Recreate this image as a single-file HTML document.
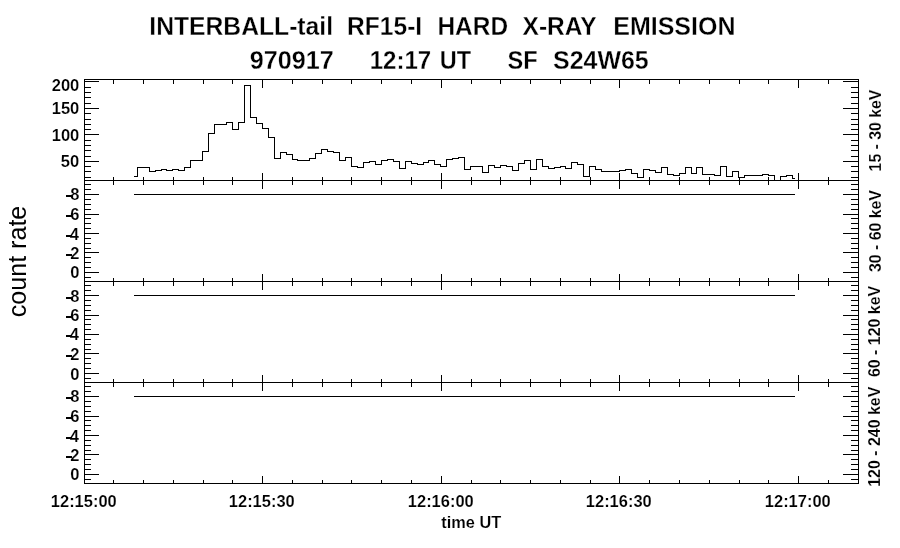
<!DOCTYPE html>
<html><head><meta charset="utf-8"><title>INTERBALL-tail RF15-I HARD X-RAY EMISSION</title>
<style>
html,body{margin:0;padding:0;background:#fff;}
body{width:900px;height:548px;overflow:hidden;font-family:"Liberation Sans",sans-serif;}
svg{display:block;filter:grayscale(1);}
svg text{font-family:"Liberation Sans",sans-serif;fill:#000;}
</style></head>
<body>
<svg width="900" height="548" viewBox="0 0 900 548">
<rect x="0" y="0" width="900" height="548" fill="#fff"/>
<g fill="#000" shape-rendering="crispEdges"><rect x="84" y="79" width="1" height="405"/><rect x="858" y="79" width="1" height="405"/><rect x="84" y="79" width="775" height="1"/><rect x="84" y="180" width="775" height="1"/><rect x="84" y="281" width="775" height="1"/><rect x="84" y="382" width="775" height="1"/><rect x="84" y="483" width="775" height="1"/><rect x="113" y="79" width="1" height="5"/><rect x="143" y="79" width="1" height="5"/><rect x="173" y="79" width="1" height="5"/><rect x="203" y="79" width="1" height="5"/><rect x="232" y="79" width="1" height="5"/><rect x="262" y="79" width="1" height="9"/><rect x="292" y="79" width="1" height="5"/><rect x="322" y="79" width="1" height="5"/><rect x="351" y="79" width="1" height="5"/><rect x="381" y="79" width="1" height="5"/><rect x="411" y="79" width="1" height="5"/><rect x="441" y="79" width="1" height="9"/><rect x="471" y="79" width="1" height="5"/><rect x="500" y="79" width="1" height="5"/><rect x="530" y="79" width="1" height="5"/><rect x="560" y="79" width="1" height="5"/><rect x="590" y="79" width="1" height="5"/><rect x="619" y="79" width="1" height="9"/><rect x="649" y="79" width="1" height="5"/><rect x="679" y="79" width="1" height="5"/><rect x="709" y="79" width="1" height="5"/><rect x="739" y="79" width="1" height="5"/><rect x="768" y="79" width="1" height="5"/><rect x="798" y="79" width="1" height="9"/><rect x="828" y="79" width="1" height="5"/><rect x="113" y="177" width="1" height="8"/><rect x="143" y="177" width="1" height="8"/><rect x="173" y="177" width="1" height="8"/><rect x="203" y="177" width="1" height="8"/><rect x="232" y="177" width="1" height="8"/><rect x="262" y="173" width="1" height="16"/><rect x="292" y="177" width="1" height="8"/><rect x="322" y="177" width="1" height="8"/><rect x="351" y="177" width="1" height="8"/><rect x="381" y="177" width="1" height="8"/><rect x="411" y="177" width="1" height="8"/><rect x="441" y="173" width="1" height="16"/><rect x="471" y="177" width="1" height="8"/><rect x="500" y="177" width="1" height="8"/><rect x="530" y="177" width="1" height="8"/><rect x="560" y="177" width="1" height="8"/><rect x="590" y="177" width="1" height="8"/><rect x="619" y="173" width="1" height="16"/><rect x="649" y="177" width="1" height="8"/><rect x="679" y="177" width="1" height="8"/><rect x="709" y="177" width="1" height="8"/><rect x="739" y="177" width="1" height="8"/><rect x="768" y="177" width="1" height="8"/><rect x="798" y="173" width="1" height="16"/><rect x="828" y="177" width="1" height="8"/><rect x="113" y="278" width="1" height="8"/><rect x="143" y="278" width="1" height="8"/><rect x="173" y="278" width="1" height="8"/><rect x="203" y="278" width="1" height="8"/><rect x="232" y="278" width="1" height="8"/><rect x="262" y="274" width="1" height="16"/><rect x="292" y="278" width="1" height="8"/><rect x="322" y="278" width="1" height="8"/><rect x="351" y="278" width="1" height="8"/><rect x="381" y="278" width="1" height="8"/><rect x="411" y="278" width="1" height="8"/><rect x="441" y="274" width="1" height="16"/><rect x="471" y="278" width="1" height="8"/><rect x="500" y="278" width="1" height="8"/><rect x="530" y="278" width="1" height="8"/><rect x="560" y="278" width="1" height="8"/><rect x="590" y="278" width="1" height="8"/><rect x="619" y="274" width="1" height="16"/><rect x="649" y="278" width="1" height="8"/><rect x="679" y="278" width="1" height="8"/><rect x="709" y="278" width="1" height="8"/><rect x="739" y="278" width="1" height="8"/><rect x="768" y="278" width="1" height="8"/><rect x="798" y="274" width="1" height="16"/><rect x="828" y="278" width="1" height="8"/><rect x="113" y="379" width="1" height="8"/><rect x="143" y="379" width="1" height="8"/><rect x="173" y="379" width="1" height="8"/><rect x="203" y="379" width="1" height="8"/><rect x="232" y="379" width="1" height="8"/><rect x="262" y="375" width="1" height="16"/><rect x="292" y="379" width="1" height="8"/><rect x="322" y="379" width="1" height="8"/><rect x="351" y="379" width="1" height="8"/><rect x="381" y="379" width="1" height="8"/><rect x="411" y="379" width="1" height="8"/><rect x="441" y="375" width="1" height="16"/><rect x="471" y="379" width="1" height="8"/><rect x="500" y="379" width="1" height="8"/><rect x="530" y="379" width="1" height="8"/><rect x="560" y="379" width="1" height="8"/><rect x="590" y="379" width="1" height="8"/><rect x="619" y="375" width="1" height="16"/><rect x="649" y="379" width="1" height="8"/><rect x="679" y="379" width="1" height="8"/><rect x="709" y="379" width="1" height="8"/><rect x="739" y="379" width="1" height="8"/><rect x="768" y="379" width="1" height="8"/><rect x="798" y="375" width="1" height="16"/><rect x="828" y="379" width="1" height="8"/><rect x="113" y="480" width="1" height="4"/><rect x="143" y="480" width="1" height="4"/><rect x="173" y="480" width="1" height="4"/><rect x="203" y="480" width="1" height="4"/><rect x="232" y="480" width="1" height="4"/><rect x="262" y="476" width="1" height="8"/><rect x="292" y="480" width="1" height="4"/><rect x="322" y="480" width="1" height="4"/><rect x="351" y="480" width="1" height="4"/><rect x="381" y="480" width="1" height="4"/><rect x="411" y="480" width="1" height="4"/><rect x="441" y="476" width="1" height="8"/><rect x="471" y="480" width="1" height="4"/><rect x="500" y="480" width="1" height="4"/><rect x="530" y="480" width="1" height="4"/><rect x="560" y="480" width="1" height="4"/><rect x="590" y="480" width="1" height="4"/><rect x="619" y="476" width="1" height="8"/><rect x="649" y="480" width="1" height="4"/><rect x="679" y="480" width="1" height="4"/><rect x="709" y="480" width="1" height="4"/><rect x="739" y="480" width="1" height="4"/><rect x="768" y="480" width="1" height="4"/><rect x="798" y="476" width="1" height="8"/><rect x="828" y="480" width="1" height="4"/><rect x="84" y="81" width="15" height="1"/><rect x="843" y="81" width="16" height="1"/><rect x="84" y="87" width="7" height="1"/><rect x="851" y="87" width="8" height="1"/><rect x="84" y="92" width="7" height="1"/><rect x="851" y="92" width="8" height="1"/><rect x="84" y="97" width="7" height="1"/><rect x="851" y="97" width="8" height="1"/><rect x="84" y="103" width="7" height="1"/><rect x="851" y="103" width="8" height="1"/><rect x="84" y="108" width="15" height="1"/><rect x="843" y="108" width="16" height="1"/><rect x="84" y="113" width="7" height="1"/><rect x="851" y="113" width="8" height="1"/><rect x="84" y="119" width="7" height="1"/><rect x="851" y="119" width="8" height="1"/><rect x="84" y="124" width="7" height="1"/><rect x="851" y="124" width="8" height="1"/><rect x="84" y="129" width="7" height="1"/><rect x="851" y="129" width="8" height="1"/><rect x="84" y="134" width="15" height="1"/><rect x="843" y="134" width="16" height="1"/><rect x="84" y="140" width="7" height="1"/><rect x="851" y="140" width="8" height="1"/><rect x="84" y="145" width="7" height="1"/><rect x="851" y="145" width="8" height="1"/><rect x="84" y="150" width="7" height="1"/><rect x="851" y="150" width="8" height="1"/><rect x="84" y="156" width="7" height="1"/><rect x="851" y="156" width="8" height="1"/><rect x="84" y="161" width="15" height="1"/><rect x="843" y="161" width="16" height="1"/><rect x="84" y="166" width="7" height="1"/><rect x="851" y="166" width="8" height="1"/><rect x="84" y="171" width="7" height="1"/><rect x="851" y="171" width="8" height="1"/><rect x="84" y="177" width="7" height="1"/><rect x="851" y="177" width="8" height="1"/><rect x="84" y="184" width="7" height="1"/><rect x="851" y="184" width="8" height="1"/><rect x="84" y="189" width="7" height="1"/><rect x="851" y="189" width="8" height="1"/><rect x="84" y="194" width="15" height="1"/><rect x="843" y="194" width="16" height="1"/><rect x="84" y="199" width="7" height="1"/><rect x="851" y="199" width="8" height="1"/><rect x="84" y="204" width="7" height="1"/><rect x="851" y="204" width="8" height="1"/><rect x="84" y="209" width="7" height="1"/><rect x="851" y="209" width="8" height="1"/><rect x="84" y="214" width="15" height="1"/><rect x="843" y="214" width="16" height="1"/><rect x="84" y="218" width="7" height="1"/><rect x="851" y="218" width="8" height="1"/><rect x="84" y="223" width="7" height="1"/><rect x="851" y="223" width="8" height="1"/><rect x="84" y="228" width="7" height="1"/><rect x="851" y="228" width="8" height="1"/><rect x="84" y="233" width="15" height="1"/><rect x="843" y="233" width="16" height="1"/><rect x="84" y="238" width="7" height="1"/><rect x="851" y="238" width="8" height="1"/><rect x="84" y="243" width="7" height="1"/><rect x="851" y="243" width="8" height="1"/><rect x="84" y="248" width="7" height="1"/><rect x="851" y="248" width="8" height="1"/><rect x="84" y="252" width="15" height="1"/><rect x="843" y="252" width="16" height="1"/><rect x="84" y="257" width="7" height="1"/><rect x="851" y="257" width="8" height="1"/><rect x="84" y="262" width="7" height="1"/><rect x="851" y="262" width="8" height="1"/><rect x="84" y="267" width="7" height="1"/><rect x="851" y="267" width="8" height="1"/><rect x="84" y="272" width="15" height="1"/><rect x="843" y="272" width="16" height="1"/><rect x="84" y="277" width="7" height="1"/><rect x="851" y="277" width="8" height="1"/><rect x="84" y="285" width="7" height="1"/><rect x="851" y="285" width="8" height="1"/><rect x="84" y="290" width="7" height="1"/><rect x="851" y="290" width="8" height="1"/><rect x="84" y="295" width="15" height="1"/><rect x="843" y="295" width="16" height="1"/><rect x="84" y="300" width="7" height="1"/><rect x="851" y="300" width="8" height="1"/><rect x="84" y="305" width="7" height="1"/><rect x="851" y="305" width="8" height="1"/><rect x="84" y="310" width="7" height="1"/><rect x="851" y="310" width="8" height="1"/><rect x="84" y="315" width="15" height="1"/><rect x="843" y="315" width="16" height="1"/><rect x="84" y="319" width="7" height="1"/><rect x="851" y="319" width="8" height="1"/><rect x="84" y="324" width="7" height="1"/><rect x="851" y="324" width="8" height="1"/><rect x="84" y="329" width="7" height="1"/><rect x="851" y="329" width="8" height="1"/><rect x="84" y="334" width="15" height="1"/><rect x="843" y="334" width="16" height="1"/><rect x="84" y="339" width="7" height="1"/><rect x="851" y="339" width="8" height="1"/><rect x="84" y="344" width="7" height="1"/><rect x="851" y="344" width="8" height="1"/><rect x="84" y="349" width="7" height="1"/><rect x="851" y="349" width="8" height="1"/><rect x="84" y="353" width="15" height="1"/><rect x="843" y="353" width="16" height="1"/><rect x="84" y="358" width="7" height="1"/><rect x="851" y="358" width="8" height="1"/><rect x="84" y="363" width="7" height="1"/><rect x="851" y="363" width="8" height="1"/><rect x="84" y="368" width="7" height="1"/><rect x="851" y="368" width="8" height="1"/><rect x="84" y="373" width="15" height="1"/><rect x="843" y="373" width="16" height="1"/><rect x="84" y="378" width="7" height="1"/><rect x="851" y="378" width="8" height="1"/><rect x="84" y="386" width="7" height="1"/><rect x="851" y="386" width="8" height="1"/><rect x="84" y="391" width="7" height="1"/><rect x="851" y="391" width="8" height="1"/><rect x="84" y="396" width="15" height="1"/><rect x="843" y="396" width="16" height="1"/><rect x="84" y="401" width="7" height="1"/><rect x="851" y="401" width="8" height="1"/><rect x="84" y="406" width="7" height="1"/><rect x="851" y="406" width="8" height="1"/><rect x="84" y="411" width="7" height="1"/><rect x="851" y="411" width="8" height="1"/><rect x="84" y="416" width="15" height="1"/><rect x="843" y="416" width="16" height="1"/><rect x="84" y="420" width="7" height="1"/><rect x="851" y="420" width="8" height="1"/><rect x="84" y="425" width="7" height="1"/><rect x="851" y="425" width="8" height="1"/><rect x="84" y="430" width="7" height="1"/><rect x="851" y="430" width="8" height="1"/><rect x="84" y="435" width="15" height="1"/><rect x="843" y="435" width="16" height="1"/><rect x="84" y="440" width="7" height="1"/><rect x="851" y="440" width="8" height="1"/><rect x="84" y="445" width="7" height="1"/><rect x="851" y="445" width="8" height="1"/><rect x="84" y="450" width="7" height="1"/><rect x="851" y="450" width="8" height="1"/><rect x="84" y="454" width="15" height="1"/><rect x="843" y="454" width="16" height="1"/><rect x="84" y="459" width="7" height="1"/><rect x="851" y="459" width="8" height="1"/><rect x="84" y="464" width="7" height="1"/><rect x="851" y="464" width="8" height="1"/><rect x="84" y="469" width="7" height="1"/><rect x="851" y="469" width="8" height="1"/><rect x="84" y="474" width="15" height="1"/><rect x="843" y="474" width="16" height="1"/><rect x="84" y="479" width="7" height="1"/><rect x="851" y="479" width="8" height="1"/><rect x="134" y="194" width="661" height="1"/><rect x="134" y="295" width="661" height="1"/><rect x="134" y="396" width="661" height="1"/><rect x="134" y="176" width="4" height="1"/><rect x="137" y="167" width="1" height="10"/><rect x="137" y="167" width="7" height="1"/><rect x="143" y="167" width="1" height="1"/><rect x="143" y="167" width="7" height="1"/><rect x="149" y="167" width="1" height="5"/><rect x="149" y="171" width="7" height="1"/><rect x="155" y="170" width="1" height="2"/><rect x="155" y="170" width="7" height="1"/><rect x="161" y="169" width="1" height="2"/><rect x="161" y="169" width="6" height="1"/><rect x="166" y="169" width="1" height="2"/><rect x="166" y="170" width="7" height="1"/><rect x="172" y="169" width="1" height="2"/><rect x="172" y="169" width="7" height="1"/><rect x="178" y="169" width="1" height="2"/><rect x="178" y="170" width="7" height="1"/><rect x="184" y="167" width="1" height="4"/><rect x="184" y="167" width="7" height="1"/><rect x="190" y="160" width="1" height="8"/><rect x="190" y="160" width="7" height="1"/><rect x="196" y="160" width="1" height="1"/><rect x="196" y="160" width="7" height="1"/><rect x="202" y="151" width="1" height="10"/><rect x="202" y="151" width="7" height="1"/><rect x="208" y="133" width="1" height="19"/><rect x="208" y="133" width="7" height="1"/><rect x="214" y="124" width="1" height="10"/><rect x="214" y="124" width="7" height="1"/><rect x="220" y="124" width="1" height="1"/><rect x="220" y="124" width="7" height="1"/><rect x="226" y="122" width="1" height="3"/><rect x="226" y="122" width="7" height="1"/><rect x="232" y="122" width="1" height="8"/><rect x="232" y="129" width="7" height="1"/><rect x="238" y="122" width="1" height="8"/><rect x="238" y="122" width="7" height="1"/><rect x="244" y="85" width="1" height="38"/><rect x="244" y="85" width="7" height="1"/><rect x="250" y="85" width="1" height="33"/><rect x="250" y="117" width="7" height="1"/><rect x="256" y="117" width="1" height="7"/><rect x="256" y="123" width="7" height="1"/><rect x="262" y="123" width="1" height="6"/><rect x="262" y="128" width="7" height="1"/><rect x="268" y="128" width="1" height="10"/><rect x="268" y="137" width="7" height="1"/><rect x="274" y="137" width="1" height="22"/><rect x="274" y="158" width="7" height="1"/><rect x="280" y="152" width="1" height="7"/><rect x="280" y="152" width="7" height="1"/><rect x="286" y="152" width="1" height="3"/><rect x="286" y="154" width="7" height="1"/><rect x="292" y="154" width="1" height="6"/><rect x="292" y="159" width="6" height="1"/><rect x="297" y="159" width="1" height="2"/><rect x="297" y="160" width="7" height="1"/><rect x="303" y="160" width="1" height="1"/><rect x="303" y="160" width="7" height="1"/><rect x="309" y="158" width="1" height="3"/><rect x="309" y="158" width="7" height="1"/><rect x="315" y="153" width="1" height="6"/><rect x="315" y="153" width="7" height="1"/><rect x="321" y="149" width="1" height="5"/><rect x="321" y="149" width="7" height="1"/><rect x="327" y="149" width="1" height="3"/><rect x="327" y="151" width="7" height="1"/><rect x="333" y="151" width="1" height="2"/><rect x="333" y="152" width="7" height="1"/><rect x="339" y="152" width="1" height="9"/><rect x="339" y="160" width="7" height="1"/><rect x="345" y="157" width="1" height="4"/><rect x="345" y="157" width="7" height="1"/><rect x="351" y="157" width="1" height="10"/><rect x="351" y="166" width="7" height="1"/><rect x="357" y="166" width="1" height="2"/><rect x="357" y="167" width="7" height="1"/><rect x="363" y="162" width="1" height="6"/><rect x="363" y="162" width="7" height="1"/><rect x="369" y="161" width="1" height="2"/><rect x="369" y="161" width="7" height="1"/><rect x="375" y="161" width="1" height="4"/><rect x="375" y="164" width="7" height="1"/><rect x="381" y="160" width="1" height="5"/><rect x="381" y="160" width="7" height="1"/><rect x="387" y="159" width="1" height="2"/><rect x="387" y="159" width="7" height="1"/><rect x="393" y="159" width="1" height="3"/><rect x="393" y="161" width="7" height="1"/><rect x="399" y="161" width="1" height="8"/><rect x="399" y="168" width="7" height="1"/><rect x="405" y="161" width="1" height="8"/><rect x="405" y="161" width="7" height="1"/><rect x="411" y="161" width="1" height="3"/><rect x="411" y="163" width="7" height="1"/><rect x="417" y="163" width="1" height="2"/><rect x="417" y="164" width="7" height="1"/><rect x="423" y="162" width="1" height="3"/><rect x="423" y="162" width="6" height="1"/><rect x="428" y="160" width="1" height="3"/><rect x="428" y="160" width="7" height="1"/><rect x="434" y="160" width="1" height="5"/><rect x="434" y="164" width="7" height="1"/><rect x="440" y="164" width="1" height="3"/><rect x="440" y="166" width="7" height="1"/><rect x="446" y="159" width="1" height="8"/><rect x="446" y="159" width="7" height="1"/><rect x="452" y="158" width="1" height="2"/><rect x="452" y="158" width="7" height="1"/><rect x="458" y="157" width="1" height="2"/><rect x="458" y="157" width="7" height="1"/><rect x="464" y="157" width="1" height="13"/><rect x="464" y="169" width="7" height="1"/><rect x="470" y="166" width="1" height="4"/><rect x="470" y="166" width="7" height="1"/><rect x="476" y="166" width="1" height="1"/><rect x="476" y="166" width="7" height="1"/><rect x="482" y="166" width="1" height="7"/><rect x="482" y="172" width="7" height="1"/><rect x="488" y="165" width="1" height="8"/><rect x="488" y="165" width="7" height="1"/><rect x="494" y="165" width="1" height="3"/><rect x="494" y="167" width="7" height="1"/><rect x="500" y="165" width="1" height="3"/><rect x="500" y="165" width="7" height="1"/><rect x="506" y="165" width="1" height="2"/><rect x="506" y="166" width="7" height="1"/><rect x="512" y="166" width="1" height="5"/><rect x="512" y="170" width="7" height="1"/><rect x="518" y="163" width="1" height="8"/><rect x="518" y="163" width="7" height="1"/><rect x="524" y="160" width="1" height="4"/><rect x="524" y="160" width="7" height="1"/><rect x="530" y="160" width="1" height="10"/><rect x="530" y="169" width="7" height="1"/><rect x="536" y="159" width="1" height="11"/><rect x="536" y="159" width="7" height="1"/><rect x="542" y="159" width="1" height="8"/><rect x="542" y="166" width="7" height="1"/><rect x="548" y="166" width="1" height="3"/><rect x="548" y="168" width="7" height="1"/><rect x="554" y="167" width="1" height="2"/><rect x="554" y="167" width="7" height="1"/><rect x="560" y="166" width="1" height="2"/><rect x="560" y="166" width="6" height="1"/><rect x="565" y="166" width="1" height="3"/><rect x="565" y="168" width="7" height="1"/><rect x="571" y="162" width="1" height="7"/><rect x="571" y="162" width="7" height="1"/><rect x="577" y="162" width="1" height="3"/><rect x="577" y="164" width="7" height="1"/><rect x="583" y="164" width="1" height="13"/><rect x="583" y="176" width="7" height="1"/><rect x="589" y="166" width="1" height="11"/><rect x="589" y="166" width="7" height="1"/><rect x="595" y="166" width="1" height="4"/><rect x="595" y="169" width="7" height="1"/><rect x="601" y="169" width="1" height="3"/><rect x="601" y="171" width="7" height="1"/><rect x="607" y="171" width="1" height="1"/><rect x="607" y="171" width="7" height="1"/><rect x="613" y="171" width="1" height="1"/><rect x="613" y="171" width="7" height="1"/><rect x="619" y="170" width="1" height="2"/><rect x="619" y="170" width="7" height="1"/><rect x="625" y="169" width="1" height="2"/><rect x="625" y="169" width="7" height="1"/><rect x="631" y="169" width="1" height="5"/><rect x="631" y="173" width="7" height="1"/><rect x="637" y="173" width="1" height="5"/><rect x="637" y="177" width="7" height="1"/><rect x="643" y="169" width="1" height="9"/><rect x="643" y="169" width="7" height="1"/><rect x="649" y="169" width="1" height="2"/><rect x="649" y="170" width="7" height="1"/><rect x="655" y="170" width="1" height="3"/><rect x="655" y="172" width="7" height="1"/><rect x="661" y="167" width="1" height="6"/><rect x="661" y="167" width="7" height="1"/><rect x="667" y="167" width="1" height="8"/><rect x="667" y="174" width="7" height="1"/><rect x="673" y="174" width="1" height="2"/><rect x="673" y="175" width="7" height="1"/><rect x="679" y="173" width="1" height="3"/><rect x="679" y="173" width="7" height="1"/><rect x="685" y="167" width="1" height="7"/><rect x="685" y="167" width="7" height="1"/><rect x="691" y="167" width="1" height="7"/><rect x="691" y="173" width="6" height="1"/><rect x="696" y="167" width="1" height="7"/><rect x="696" y="167" width="7" height="1"/><rect x="702" y="167" width="1" height="8"/><rect x="702" y="174" width="7" height="1"/><rect x="708" y="174" width="1" height="1"/><rect x="708" y="174" width="7" height="1"/><rect x="714" y="174" width="1" height="2"/><rect x="714" y="175" width="7" height="1"/><rect x="720" y="166" width="1" height="10"/><rect x="720" y="166" width="7" height="1"/><rect x="726" y="166" width="1" height="11"/><rect x="726" y="176" width="7" height="1"/><rect x="732" y="171" width="1" height="6"/><rect x="732" y="171" width="7" height="1"/><rect x="738" y="171" width="1" height="7"/><rect x="738" y="177" width="7" height="1"/><rect x="744" y="175" width="1" height="3"/><rect x="744" y="175" width="7" height="1"/><rect x="750" y="175" width="1" height="1"/><rect x="750" y="175" width="7" height="1"/><rect x="756" y="175" width="1" height="1"/><rect x="756" y="175" width="7" height="1"/><rect x="762" y="174" width="1" height="2"/><rect x="762" y="174" width="7" height="1"/><rect x="768" y="174" width="1" height="2"/><rect x="768" y="175" width="7" height="1"/><rect x="774" y="175" width="1" height="6"/><rect x="774" y="180" width="7" height="1"/><rect x="780" y="176" width="1" height="5"/><rect x="780" y="176" width="7" height="1"/><rect x="786" y="175" width="1" height="2"/><rect x="786" y="175" width="7" height="1"/><rect x="792" y="175" width="1" height="4"/><rect x="792" y="178" width="3" height="1"/></g>
<g><text transform="translate(149.33,35) scale(0.9876,1)" style="font-size:25px;font-weight:bold;stroke:#fff;stroke-width:0.3px;">INTERBALL-tail</text><text transform="translate(347.04,35) scale(0.9836,1)" style="font-size:25px;font-weight:bold;stroke:#fff;stroke-width:0.3px;">RF15-I</text><text transform="translate(437.45,35) scale(0.9779,1)" style="font-size:25px;font-weight:bold;stroke:#fff;stroke-width:0.3px;">HARD</text><text transform="translate(522.57,35) scale(0.9808,1)" style="font-size:25px;font-weight:bold;stroke:#fff;stroke-width:0.3px;">X-RAY</text><text transform="translate(613.21,35) scale(1.0008,1)" style="font-size:25px;font-weight:bold;stroke:#fff;stroke-width:0.3px;">EMISSION</text><text transform="translate(249.85,69) scale(1.0079,1)" style="font-size:25px;font-weight:bold;stroke:#fff;stroke-width:0.3px;">970917</text><text transform="translate(369.63,69) scale(0.9630,1)" style="font-size:25px;font-weight:bold;stroke:#fff;stroke-width:0.3px;">12:17</text><text transform="translate(439.71,69) scale(0.9421,1)" style="font-size:25px;font-weight:bold;stroke:#fff;stroke-width:0.3px;">UT</text><text transform="translate(507.42,69) scale(0.9424,1)" style="font-size:25px;font-weight:bold;stroke:#fff;stroke-width:0.3px;">SF</text><text transform="translate(553.06,69) scale(0.9983,1)" style="font-size:25px;font-weight:bold;stroke:#fff;stroke-width:0.3px;">S24W65</text><text transform="translate(50.80,507) scale(0.9989,1)" style="font-size:16.5px;font-weight:bold;stroke:#fff;stroke-width:0.15px;">12:15:00</text><text transform="translate(228.80,507) scale(0.9989,1)" style="font-size:16.5px;font-weight:bold;stroke:#fff;stroke-width:0.15px;">12:15:30</text><text transform="translate(407.80,507) scale(0.9989,1)" style="font-size:16.5px;font-weight:bold;stroke:#fff;stroke-width:0.15px;">12:16:00</text><text transform="translate(585.80,507) scale(0.9989,1)" style="font-size:16.5px;font-weight:bold;stroke:#fff;stroke-width:0.15px;">12:16:30</text><text transform="translate(764.80,507) scale(0.9989,1)" style="font-size:16.5px;font-weight:bold;stroke:#fff;stroke-width:0.15px;">12:17:00</text><text transform="translate(441.30,528) scale(1.0210,1)" style="font-size:16px;font-weight:bold;stroke:#fff;stroke-width:0.15px;">time UT</text><text transform="translate(51.70,91) scale(1.0000,1)" style="font-size:16.5px;font-weight:bold;stroke:#fff;stroke-width:0.15px;">200</text><text transform="translate(51.70,114) scale(1.0000,1)" style="font-size:16.5px;font-weight:bold;stroke:#fff;stroke-width:0.15px;">150</text><text transform="translate(51.70,141) scale(1.0000,1)" style="font-size:16.5px;font-weight:bold;stroke:#fff;stroke-width:0.15px;">100</text><text transform="translate(60.70,167) scale(1.0000,1)" style="font-size:16.5px;font-weight:bold;stroke:#fff;stroke-width:0.15px;">50</text><text transform="translate(70.21,200) scale(1.0000,1)" style="font-size:16.5px;font-weight:bold;stroke:#fff;stroke-width:0.15px;">8</text><text transform="translate(70.30,220) scale(1.0000,1)" style="font-size:16.5px;font-weight:bold;stroke:#fff;stroke-width:0.15px;">6</text><text transform="translate(69.63,240) scale(1.0000,1)" style="font-size:16.5px;font-weight:bold;stroke:#fff;stroke-width:0.15px;">4</text><text transform="translate(70.30,259) scale(1.0000,1)" style="font-size:16.5px;font-weight:bold;stroke:#fff;stroke-width:0.15px;">2</text><text transform="translate(70.33,278) scale(1.0000,1)" style="font-size:16.5px;font-weight:bold;stroke:#fff;stroke-width:0.15px;">0</text><text transform="translate(70.21,302) scale(1.0000,1)" style="font-size:16.5px;font-weight:bold;stroke:#fff;stroke-width:0.15px;">8</text><text transform="translate(70.30,321) scale(1.0000,1)" style="font-size:16.5px;font-weight:bold;stroke:#fff;stroke-width:0.15px;">6</text><text transform="translate(69.63,340) scale(1.0000,1)" style="font-size:16.5px;font-weight:bold;stroke:#fff;stroke-width:0.15px;">4</text><text transform="translate(70.30,360) scale(1.0000,1)" style="font-size:16.5px;font-weight:bold;stroke:#fff;stroke-width:0.15px;">2</text><text transform="translate(70.33,380) scale(1.0000,1)" style="font-size:16.5px;font-weight:bold;stroke:#fff;stroke-width:0.15px;">0</text><text transform="translate(70.21,402) scale(1.0000,1)" style="font-size:16.5px;font-weight:bold;stroke:#fff;stroke-width:0.15px;">8</text><text transform="translate(70.30,422) scale(1.0000,1)" style="font-size:16.5px;font-weight:bold;stroke:#fff;stroke-width:0.15px;">6</text><text transform="translate(69.63,442) scale(1.0000,1)" style="font-size:16.5px;font-weight:bold;stroke:#fff;stroke-width:0.15px;">4</text><text transform="translate(70.30,461) scale(1.0000,1)" style="font-size:16.5px;font-weight:bold;stroke:#fff;stroke-width:0.15px;">2</text><text transform="translate(70.33,480) scale(1.0000,1)" style="font-size:16.5px;font-weight:bold;stroke:#fff;stroke-width:0.15px;">0</text><text transform="translate(881.00,171.39) rotate(-90) scale(0.9890,1)" style="font-size:16px;font-weight:bold;stroke:#fff;stroke-width:0.15px;">15 - 30 keV</text><text transform="translate(881.00,272.05) rotate(-90) scale(0.9922,1)" style="font-size:16px;font-weight:bold;stroke:#fff;stroke-width:0.15px;">30 - 60 keV</text><text transform="translate(880.00,377.10) rotate(-90) scale(0.9978,1)" style="font-size:16px;font-weight:bold;stroke:#fff;stroke-width:0.15px;">60 - 120 keV</text><text transform="translate(880.00,486.80) rotate(-90) scale(0.9969,1)" style="font-size:16px;font-weight:bold;stroke:#fff;stroke-width:0.15px;">120 - 240 keV</text><text transform="translate(26.20,317.30) rotate(-90) scale(1.0044,1)" style="font-size:25px;font-weight:normal;">count rate</text></g>
<g fill="#000" shape-rendering="crispEdges"><rect x="66" y="195" width="6" height="2"/><rect x="66" y="215" width="6" height="2"/><rect x="66" y="235" width="6" height="2"/><rect x="66" y="254" width="6" height="2"/><rect x="66" y="297" width="6" height="2"/><rect x="66" y="316" width="6" height="2"/><rect x="66" y="335" width="6" height="2"/><rect x="66" y="355" width="6" height="2"/><rect x="66" y="397" width="6" height="2"/><rect x="66" y="417" width="6" height="2"/><rect x="66" y="437" width="6" height="2"/><rect x="66" y="456" width="6" height="2"/></g>
</svg>
</body></html>
